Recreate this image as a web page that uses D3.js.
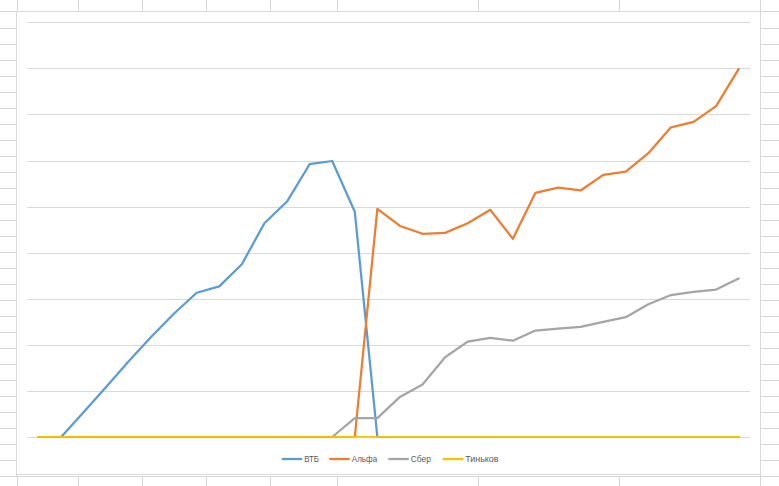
<!DOCTYPE html>
<html>
<head>
<meta charset="utf-8">
<script src="https://cdn.jsdelivr.net/npm/d3@7"></script>
<style>
  html, body { margin: 0; padding: 0; background: #fff; }
  svg { display: block; }
</style>
</head>
<body>
<svg id="chart" width="779" height="486"></svg>
<script>
// ---- data ----
const categories = ["1","2","3","4","5","6","7","8","9","10","11","12","13","14","15","16",
                    "17","18","19","20","21","22","23","24","25","26","27","28","29","30","31","32"];
const seriesNames = ["ВТБ", "Альфа", "Сбер", "Тиньков"];
const vtb    = [0,0,54,109,165,218,268,313,327,375,464,511,592,599,489,0,
                0,0,0,0,0,0,0,0,0,0,0,0,0,0,0,0];
const alfa   = [0,0,0,0,0,0,0,0,0,0,0,0,0,0,0,495,
                458,441,443,464,493,430,530,541,535,569,576,616,672,684,718,799];
const sber   = [0,0,0,0,0,0,0,0,0,0,0,0,0,0,41,41,
                87,114,173,207,215,209,231,235,239,250,260,288,308,315,320,344];
const tinkov = [0,0,0,0,0,0,0,0,0,0,0,0,0,0,0,0,
                0,0,0,0,0,0,0,0,0,0,0,0,0,0,0,0];
const yTicks = [0,100,200,300,400,500,600,700,800,900];

// ---- styles ----
const colors = ["#5B9BD5", "#ED7D31", "#A5A5A5", "#FFC000"];
const legendTextWidths = [14.7, 25.3, 20, 33.3];
const sheetGrid = "#d6d6d6";

const svg = d3.select("#chart");
const W = 779, H = 486;

// ---- spreadsheet background grid ----
const colLines = [17, 78.7, 142.7, 206.7, 270.5, 337, 478, 619.3, 760.3];
const bg = svg.append("g").attr("stroke", sheetGrid).attr("stroke-width", 1).attr("shape-rendering", "crispEdges");
bg.append("line").attr("x1", 0).attr("x2", W).attr("y1", 11.5).attr("y2", 11.5);
bg.append("line").attr("x1", 0).attr("x2", W).attr("y1", 476.5).attr("y2", 476.5);
colLines.forEach(x => {
  bg.append("line").attr("x1", x).attr("x2", x).attr("y1", 0).attr("y2", 11.5);
  bg.append("line").attr("x1", x).attr("x2", x).attr("y1", 476.5).attr("y2", H);
});
bg.append("line").attr("x1", 16.5).attr("x2", 16.5).attr("y1", 11.5).attr("y2", 476.5);
bg.append("line").attr("x1", 760.5).attr("x2", 760.5).attr("y1", 11.5).attr("y2", 476.5);
for (let y = 28.3; y < 476; y += 16) {
  bg.append("line").attr("x1", 0).attr("x2", 16.5).attr("y1", Math.round(y) + 0.5).attr("y2", Math.round(y) + 0.5);
  bg.append("line").attr("x1", 760.5).attr("x2", W).attr("y1", Math.round(y) + 0.5).attr("y2", Math.round(y) + 0.5);
}

// ---- chart box ----
svg.append("rect")
  .attr("x", 16.5).attr("y", 11.5).attr("width", 744).attr("height", 463)
  .attr("fill", "#fff").attr("stroke", "#d9d9d9").attr("stroke-width", 1);

// ---- scales ----
const x = d3.scaleBand().domain(categories).range([27.3, 750]);
const y = d3.scaleLinear().domain([0, 900]).range([437, 22.3]);
const cx = c => x(c) + x.bandwidth() / 2;

// clip to plot area (Excel clips lines at the plot edge)
svg.append("defs").append("clipPath").attr("id", "plotClip")
  .append("rect").attr("x", 27.3).attr("y", 0).attr("width", 722.7).attr("height", 437.6);

// gridlines
svg.append("g").selectAll("line").data(yTicks).join("line")
  .attr("x1", 27.3).attr("x2", 750)
  .attr("y1", d => Math.round(y(d)) + 0.5).attr("y2", d => Math.round(y(d)) + 0.5)
  .attr("stroke", "#d9d9d9").attr("stroke-width", 1);

// ---- lines ----
const allSeries = [vtb, alfa, sber, tinkov];
const line = d3.line().x((d, i) => cx(categories[i])).y(d => y(d));
const plot = svg.append("g").attr("clip-path", "url(#plotClip)");
allSeries.forEach((s, k) => {
  plot.append("path")
    .datum(s)
    .attr("d", line)
    .attr("fill", "none")
    .attr("stroke", colors[k])
    .attr("stroke-width", 2.25)
    .attr("stroke-linejoin", "round")
    .attr("stroke-linecap", "round");
});

// ---- legend ----
const legendX = [281.7, 329.3, 388.3, 442.7];
const legend = svg.append("g");
seriesNames.forEach((name, k) => {
  legend.append("line")
    .attr("x1", legendX[k]).attr("x2", legendX[k] + 20.5)
    .attr("y1", 459).attr("y2", 459)
    .attr("stroke", colors[k]).attr("stroke-width", 2.25);
  legend.append("text")
    .attr("x", legendX[k] + 22.5).attr("y", 462.3)
    .attr("font-family", "'Liberation Sans', Arial, sans-serif")
    .attr("font-size", 9.3)
    .attr("fill", "#595959")
    .attr("textLength", legendTextWidths[k])
    .attr("lengthAdjust", "spacingAndGlyphs")
    .text(name);
});
</script>
</body>
</html>
